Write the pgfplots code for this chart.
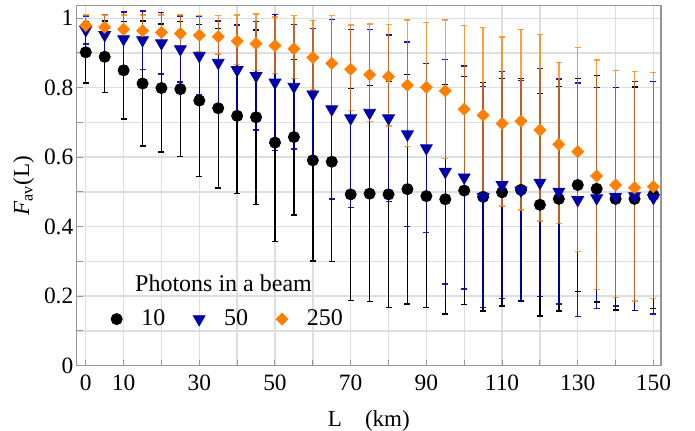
\documentclass[border=0pt]{standalone}
\usepackage{fontspec}
\setmainfont{Liberation Serif}
\usepackage{pgfplots}
\pgfplotsset{compat=1.18}
\usepackage{pgfplotstable}

\definecolor{mblue}{RGB}{0,0,170}
\definecolor{morange}{RGB}{255,128,0}
\definecolor{gridgray}{RGB}{222,222,222}
\definecolor{framegray}{RGB}{150,150,150}

% 10 photons
\pgfplotstableread{
x y e
0 0.902 0.088
5 0.889 0.103
10 0.850 0.140
15 0.812 0.180
20 0.799 0.184
25 0.796 0.194
30 0.763 0.219
35 0.741 0.230
40 0.719 0.223
45 0.715 0.251
50 0.642 0.285
55 0.658 0.224
60 0.591 0.290
65 0.587 0.288
70 0.493 0.305
75 0.495 0.311
80 0.493 0.325
85 0.508 0.330
90 0.488 0.321
95 0.479 0.330
100 0.504 0.328
105 0.486 0.329
110 0.499 0.327
115 0.506 0.320
120 0.463 0.320
125 0.480 0.323
130 0.520 0.307
135 0.509 0.326
140 0.480 0.320
145 0.480 0.322
150 0.491 0.326
}\dataten

% 50 photons
\pgfplotstableread{
x y e
0 0.966 0.040
5 0.952 0.058
10 0.940 0.078
15 0.937 0.084
20 0.928 0.089
25 0.911 0.095
30 0.892 0.113
35 0.872 0.120
40 0.851 0.130
45 0.834 0.156
50 0.815 0.196
55 0.803 0.179
60 0.781 0.190
65 0.738 0.258
70 0.712 0.256
75 0.728 0.240
80 0.712 0.240
85 0.666 0.266
90 0.626 0.243
95 0.558 0.323
100 0.542 0.321
105 0.486 0.318
110 0.520 0.326
115 0.504 0.317
120 0.527 0.328
125 0.501 0.324
130 0.477 0.336
135 0.482 0.318
140 0.486 0.314
145 0.488 0.330
150 0.483 0.334
}\datafifty

% 250 photons
\pgfplotstableread{
x y em ep
0 0.979 0.018 0.030
5 0.974 0.022 0.035
10 0.968 0.029 0.041
15 0.964 0.034 0.045
20 0.959 0.034 0.050
25 0.956 0.049 0.053
30 0.951 0.047 0.057
35 0.947 0.050 0.060
40 0.934 0.067 0.075
45 0.927 0.078 0.085
50 0.921 0.080 0.083
55 0.912 0.085 0.095
60 0.887 0.094 0.106
65 0.870 0.126 0.137
70 0.853 0.119 0.128
75 0.837 0.134 0.146
80 0.832 0.142 0.150
85 0.807 0.177 0.188
90 0.801 0.171 0.186
95 0.791 0.195 0.204
100 0.738 0.232 0.241
105 0.721 0.240 0.252
110 0.697 0.237 0.249
115 0.704 0.256 0.264
120 0.678 0.262 0.275
125 0.637 0.227 0.236
130 0.616 0.288 0.299
135 0.546 0.326 0.334
140 0.520 0.323 0.329
145 0.512 0.326 0.334
150 0.515 0.321 0.329
}\datatwofifty

\begin{document}
\begin{tikzpicture}
\begin{axis}[
    scale only axis,
    width=292.2pt, height=180pt,
    xmin=-2.4, xmax=152, ymin=0, ymax=1.036,
    xtick={0,10,20,30,40,50,60,70,80,90,100,110,120,130,140,150},
    xticklabels={0,10,,30,,50,,70,,90,,110,,130,,150},
    ytick={0,0.1,0.2,0.3,0.4,0.5,0.6,0.7,0.8,0.9,1},
    yticklabels={0,,0.2,,0.4,,0.6,,0.8,,1},
    xtick pos=bottom, ytick pos=left,
    tick align=inside,
    major tick length=3pt,
    tick style={framegray, line width=0.5pt},
    grid=major,
    grid style={gridgray, line width=0.7pt},
    axis line style={framegray, line width=0.7pt},
    /pgf/number format/assume math mode=true,
    ticklabel style={font=\rmfamily\fontsize{11.7}{13}\selectfont},
    xticklabel style={yshift=-1pt},
    yticklabel style={inner xsep=1.5pt},
    label style={font=\rmfamily\fontsize{11.5}{13}\selectfont},
    xlabel={L\quad(km)},
    xlabel style={yshift=-3pt},
    ylabel={\textit{F}\textsubscript{av}(L)},
    legend columns=3,
    legend cell align=left,
    legend style={draw=none, fill=none, at={(axis cs:5,0.134)}, anchor=west,
        font=\rmfamily\fontsize{12}{14}\selectfont,
        /tikz/every odd column/.append style={column sep=7.5pt},
        /tikz/every even column/.append style={column sep=12pt}},
    error bars/y dir=both,
]
\addplot[only marks, mark=*, black, mark size=2.8pt,
    error bars/.cd, y explicit,
    error bar style={black, line width=0.7pt},
    error mark options={black, rotate=90, mark size=1.5pt, line width=0.7pt}]
    table[x=x, y=y, y error=e] {\dataten};
\addlegendentry{10}
\addplot[only marks, mark=triangle*, mark options={rotate=180}, mblue, mark size=3.4pt,
    error bars/.cd, y explicit,
    error bar style={mblue, opacity=0.9, line width=0.7pt},
    error mark options={mblue, rotate=90, mark size=1.5pt, line width=0.7pt}]
    table[x=x, y=y, y error=e] {\datafifty};
\addlegendentry{50}
\addplot[only marks, mark=square*, mark options={rotate=45}, morange, mark size=2.1pt,
    error bars/.cd, y explicit,
    error bar style={morange, opacity=0.75, line width=0.7pt},
    error mark options={morange, rotate=90, mark size=1.5pt, line width=0.7pt}]
    table[x=x, y=y, y error plus=ep, y error minus=em] {\datatwofifty};
\addlegendentry{250}
\node[anchor=west, font=\rmfamily\fontsize{12}{14}\selectfont] at (axis cs:11.2,0.238) {Photons in a beam};
\coordinate (bl) at (rel axis cs:0,0);
\coordinate (tr) at (rel axis cs:1,1);
\end{axis}
\pgfresetboundingbox
\path[use as bounding box] ([shift={(-38.35pt,-32.65pt)}]bl) rectangle ([shift={(17pt,2.85pt)}]tr);
\end{tikzpicture}
\end{document}
